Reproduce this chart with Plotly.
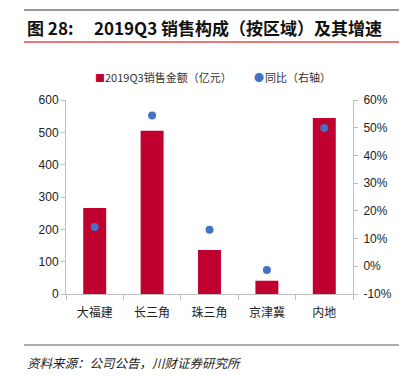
import plotly.graph_objects as go

categories = ["大福建", "长三角", "珠三角", "京津冀", "内地"]
sales = [266, 505, 136, 41, 544]          # 2019Q3销售金额（亿元）
yoy = [14.2, 54.4, 13.2, -1.3, 49.9]      # 同比（%）
left_ticks = [0, 100, 200, 300, 400, 500, 600]
right_ticks = [-10, 0, 10, 20, 30, 40, 50, 60]

W, H = 407, 376
ML, MR, MT, MB = 66, 54, 100, 82
PW, PH = W - ML - MR, H - MT - MB


def px(x):
    return (x - ML) / PW


def py(y):
    return (H - MB - y) / PH


CJK = "Noto Sans CJK SC"
NUM = "Liberation Sans, Arial"
BAR_C = "#C0002F"
DOT_C = "#4472C4"

fig = go.Figure()
fig.add_trace(go.Bar(
    x=categories, y=sales, name="2019Q3销售金额（亿元）",
    marker=dict(color=BAR_C, line=dict(width=0)),
    yaxis="y",
))
fig.add_trace(go.Scatter(
    x=categories, y=yoy, name="同比（右轴）", mode="markers",
    marker=dict(color=DOT_C, size=8),
    yaxis="y2",
))

fig.update_layout(
    width=W, height=H,
    margin=dict(l=ML, r=MR, t=MT, b=MB),
    paper_bgcolor="white", plot_bgcolor="white",
    bargap=0.6,
    showlegend=False,
    xaxis=dict(
        tickfont=dict(family=CJK, size=12, color="#222"),
        showline=True, linecolor="#BFBFBF", linewidth=1,
        ticks="outside", tickson="boundaries", ticklen=5, tickcolor="#BFBFBF",
        ticklabelstandoff=8,
        showgrid=False, zeroline=False,
    ),
    yaxis=dict(
        range=[0, 600], tickvals=left_ticks,
        tickfont=dict(family=NUM, size=12, color="#222"),
        showline=True, linecolor="#BFBFBF", linewidth=1,
        ticks="outside", ticklen=4, tickcolor="#BFBFBF",
        showgrid=False, zeroline=False,
    ),
    yaxis2=dict(
        range=[-10, 60], tickvals=right_ticks,
        ticktext=[f"{v}%" for v in right_ticks],
        overlaying="y", side="right",
        tickfont=dict(family=NUM, size=12, color="#222"),
        showline=True, linecolor="#BFBFBF", linewidth=1,
        ticks="outside", ticklen=4, tickcolor="#BFBFBF",
        ticklabelstandoff=3,
        showgrid=False, zeroline=False,
    ),
)

shapes = [
    dict(type="line", xref="paper", yref="paper", x0=px(24), x1=px(399), y0=py(10), y1=py(10),
         line=dict(color="#333333", width=1)),
    dict(type="line", xref="paper", yref="paper", x0=px(24), x1=px(399), y0=py(42), y1=py(42),
         line=dict(color="#E04848", width=1.5)),
    dict(type="line", xref="paper", yref="paper", x0=px(24), x1=px(399), y0=py(345), y1=py(345),
         line=dict(color="#909090", width=1.5)),
]
fig.update_layout(shapes=shapes)


def note(x, y, text, size, family=CJK, color="#111", anchor="left"):
    fig.add_annotation(
        xref="paper", yref="paper", x=px(x), y=py(y), xanchor=anchor, yanchor="middle",
        text=text, showarrow=False, font=dict(family=family, size=size, color=color),
    )


# title
note(25, 27, "<b>图 28:</b>", 17)
note(92, 27, "<b>2019Q3 销售构成（按区域）及其增速</b>", 17)
# legend
note(93, 77, "■", 10, color=BAR_C)
note(103, 77, "2019Q3销售金额（亿元）", 11, color="#333")
note(252, 77, "●", 10, color=DOT_C)
note(263, 77, "同比（右轴）", 11, color="#333")
# source
note(25, 362, "<i>资料来源：公司公告，川财证券研究所</i>", 12.5, color="#222")

fig.write_html("out.html", config={"displayModeBar": False},
               post_script="document.body.style.margin='0';")
